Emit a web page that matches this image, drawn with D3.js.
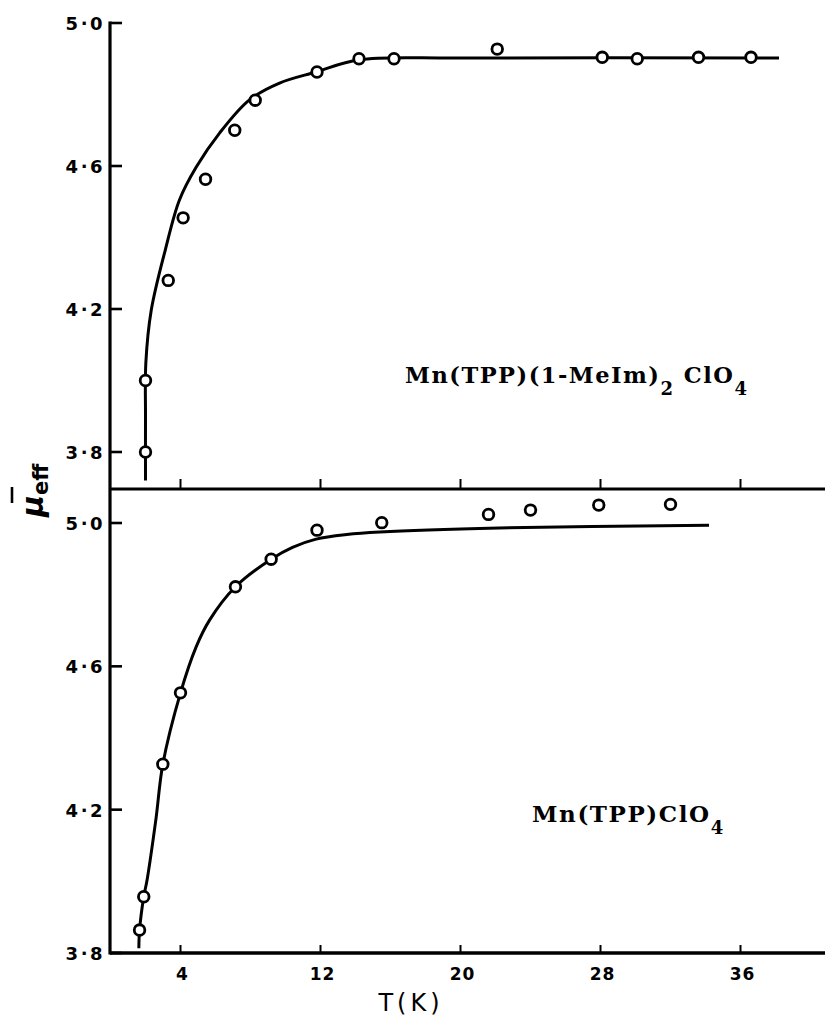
<!DOCTYPE html>
<html>
<head>
<meta charset="utf-8">
<script src="https://cdn.jsdelivr.net/npm/d3@7"></script>
<style>
  html, body { margin: 0; padding: 0; background: #fff; }
  svg { display: block; }
</style>
</head>
<body>
<div id="chart"></div>
<script>
// ---------- data ----------
const xTicks = [4, 12, 20, 28, 36];
const yTicks = [3.8, 4.2, 4.6, 5.0];
const yTickLabels = ["3·8", "4·2", "4·6", "5·0"];

// Top panel: Mn(TPP)(1-MeIm)2 ClO4
const topT  = [2.0, 2.0, 3.3, 4.15, 5.43, 7.1, 8.27, 11.8, 14.2, 16.2, 22.1, 28.1, 30.1, 33.6, 36.6];
const topMu = [4.00, 3.80, 4.28, 4.455, 4.563, 4.70, 4.784, 4.863, 4.90, 4.90, 4.927, 4.904, 4.90, 4.904, 4.904];
const topFitT  = [2.0, 2.0, 2.02, 2.33, 3.13, 3.94, 4.9, 6.23, 7.94, 9.66, 11.75, 14.2, 20, 38.2];
const topFitMu = [3.72, 3.9, 4.05, 4.197, 4.365, 4.505, 4.597, 4.692, 4.785, 4.832, 4.863, 4.897, 4.902, 4.902];

// Bottom panel: Mn(TPP)ClO4
const botT  = [1.66, 1.9, 2.99, 4.0, 7.14, 9.18, 11.8, 15.5, 21.6, 24.0, 27.9, 32.0];
const botMu = [3.864, 3.957, 4.327, 4.526, 4.822, 4.899, 4.98, 5.001, 5.024, 5.036, 5.05, 5.052];
const botFitT  = [1.62, 1.66, 1.9, 2.09, 2.6, 2.99, 4.0, 4.9, 5.66, 7.14, 9.18, 10.4, 11.75, 13.5, 15.4, 22.2, 34.2];
const botFitMu = [3.813, 3.864, 3.957, 4.004, 4.175, 4.327, 4.526, 4.655, 4.729, 4.822, 4.899, 4.932, 4.955, 4.968, 4.975, 4.986, 4.994];

// ---------- layout ----------
const W = 825, H = 1019;
const svg = d3.select("#chart").append("svg").attr("width", W).attr("height", H);

const x = d3.scaleLinear().domain([0, 40.8]).range([110.5, 824.5]);
const yTop = d3.scaleLinear().domain([3.8, 5.0]).range([452, 23]);
const yBot = d3.scaleLinear().domain([3.8, 5.0]).range([953, 523]);
const midY = 489;

const ink = "#000";
const tickFont = "'DejaVu Sans', sans-serif";

// axes lines
svg.append("line").attr("x1", 110).attr("x2", 110).attr("y1", yTop(5.0) - 1.5).attr("y2", yBot(3.8) + 1.5)
  .attr("stroke", ink).attr("stroke-width", 3.2);
svg.append("line").attr("x1", 110).attr("x2", W).attr("y1", midY).attr("y2", midY)
  .attr("stroke", ink).attr("stroke-width", 3.2);
svg.append("line").attr("x1", 110).attr("x2", W).attr("y1", yBot(3.8)).attr("y2", yBot(3.8))
  .attr("stroke", ink).attr("stroke-width", 3.4);

// x ticks (upward) on mid line and bottom line
[[midY, 10], [yBot(3.8), 8]].forEach(([yy, len]) => {
  svg.append("g").selectAll("line").data(xTicks).join("line")
    .attr("x1", d => x(d)).attr("x2", d => x(d))
    .attr("y1", yy).attr("y2", yy - len)
    .attr("stroke", ink).attr("stroke-width", 2);
});

// x tick labels
svg.append("g").selectAll("text").data(xTicks).join("text")
  .attr("x", d => x(d) + 2).attr("y", 980)
  .attr("text-anchor", "middle")
  .attr("font-family", tickFont).attr("font-weight", "bold").attr("font-size", 17)
  .attr("letter-spacing", 1)
  .text(d => d);

// x axis title
svg.append("text").attr("x", 411).attr("y", 1011).attr("text-anchor", "middle")
  .attr("font-family", tickFont).attr("font-size", 24).attr("letter-spacing", 4)
  .text("T(K)");

// y ticks (inward) and labels for both panels
function yAxis(scale, vals, labels) {
  svg.append("g").selectAll("line").data(vals).join("line")
    .attr("x1", 110).attr("x2", 122)
    .attr("y1", d => scale(d)).attr("y2", d => scale(d))
    .attr("stroke", ink).attr("stroke-width", 2.6);
  svg.append("g").selectAll("text").data(vals).join("text")
    .attr("x", 105).attr("y", d => scale(d) + 7)
    .attr("text-anchor", "end")
    .attr("font-family", tickFont).attr("font-weight", "bold").attr("font-size", 18)
    .attr("letter-spacing", 2.5)
    .text((d, i) => labels[i]);
}
yAxis(yTop, yTicks, yTickLabels);
yAxis(yBot, yTicks, yTickLabels);

// fit curves
const lineTop = d3.line().x(d => x(d[0])).y(d => yTop(d[1])).curve(d3.curveCatmullRom.alpha(0.5));
const lineBot = d3.line().x(d => x(d[0])).y(d => yBot(d[1])).curve(d3.curveCatmullRom.alpha(0.5));
svg.append("path").datum(d3.zip(topFitT, topFitMu)).attr("d", lineTop)
  .attr("fill", "none").attr("stroke", ink).attr("stroke-width", 3);
svg.append("path").datum(d3.zip(botFitT, botFitMu)).attr("d", lineBot)
  .attr("fill", "none").attr("stroke", ink).attr("stroke-width", 3);

// data points
svg.append("g").selectAll("circle").data(d3.zip(topT, topMu)).join("circle")
  .attr("cx", d => x(d[0])).attr("cy", d => yTop(d[1])).attr("r", 5.3)
  .attr("fill", "#fff").attr("stroke", ink).attr("stroke-width", 2.8);
svg.append("g").selectAll("circle").data(d3.zip(botT, botMu)).join("circle")
  .attr("cx", d => x(d[0])).attr("cy", d => yBot(d[1])).attr("r", 5.3)
  .attr("fill", "#fff").attr("stroke", ink).attr("stroke-width", 2.8);

// compound labels
const labFont = "'DejaVu Serif', serif";
const t1 = svg.append("text").attr("x", 405).attr("y", 383)
  .attr("font-family", labFont).attr("font-weight", "bold").attr("font-size", 22.5)
  .attr("letter-spacing", 1.5);
t1.append("tspan").text("Mn(TPP)(1-MeIm)");
t1.append("tspan").attr("dy", 12).attr("font-size", 18).text("2");
t1.append("tspan").attr("dy", -12).text(" ClO");
t1.append("tspan").attr("dy", 12).attr("font-size", 18).text("4");

const t2 = svg.append("text").attr("x", 532).attr("y", 822)
  .attr("font-family", labFont).attr("font-weight", "bold").attr("font-size", 23)
  .attr("letter-spacing", 1.6);
t2.append("tspan").text("Mn(TPP)ClO");
t2.append("tspan").attr("dy", 12).attr("font-size", 18).text("4");

// y axis label: mu-bar_eff (rotated)
const gl = svg.append("g").attr("transform", "translate(43,517) rotate(-90)");
gl.append("text").attr("x", 0).attr("y", 0)
  .attr("font-family", tickFont).attr("font-weight", "bold").attr("font-style", "italic")
  .attr("font-size", 30).text("μ")
  .append("tspan").attr("dy", 5).attr("font-size", 21).attr("font-style", "normal").text("eff");
gl.append("line").attr("x1", 14).attr("x2", 30).attr("y1", -31).attr("y2", -31)
  .attr("stroke", ink).attr("stroke-width", 2.6);
</script>
</body>
</html>
